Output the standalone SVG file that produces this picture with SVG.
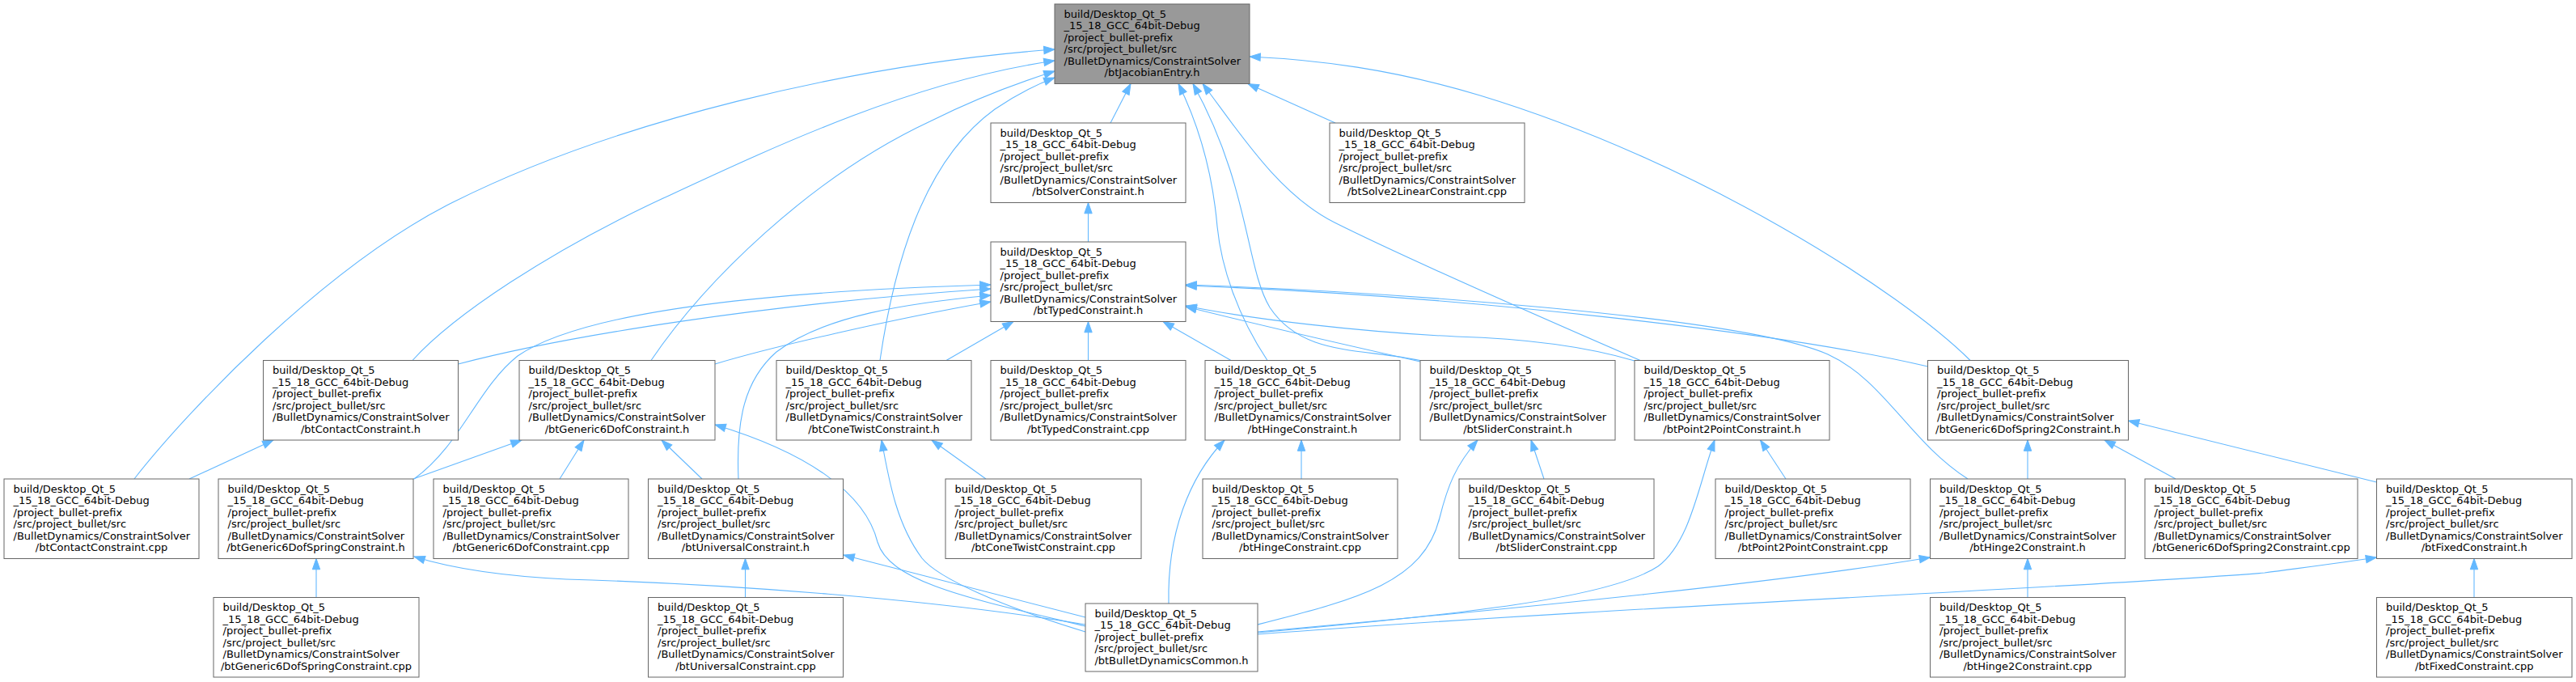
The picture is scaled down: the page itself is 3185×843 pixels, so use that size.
<svg xmlns="http://www.w3.org/2000/svg" width="3185" height="843" viewBox="0 0 3185 843">
<style>
.n rect{fill:#fff;stroke:#666;stroke-width:1}
.n.hl rect{fill:#999}
.n text{font-family:"DejaVu Sans","Liberation Sans",sans-serif;font-size:13px;fill:#000}
.n text.c{text-anchor:middle}
.e path{fill:none;stroke:#63b8ff;stroke-width:1.1;marker-end:url(#ah)}
</style>
<defs>
<marker id="ah" markerUnits="userSpaceOnUse" markerWidth="16" markerHeight="12" refX="13.3" refY="4.7" orient="auto" overflow="visible">
<path d="M0,0 L13.3,4.7 L0,9.4 z" fill="#63b8ff" stroke="#63b8ff" stroke-width="1"/>
</marker>
</defs>
<rect width="3185" height="843" fill="#fff"/>
<g id="edges" class="e">
<path d="M166,592 C230,510 400,330 560,250 C760,150 1050,80 1304,61"/>
<path d="M510,445.5 C560,390 680,310 820,245 C960,180 1130,100 1304,75"/>
<path d="M805,445.5 C870,350 1000,220 1150,150 C1200,125 1250,105 1304,88"/>
<path d="M1088,445.5 C1105,330 1140,200 1230,135 C1255,118 1280,105 1304,96"/>
<path d="M1373,152 L1398,103.5"/>
<path d="M1567,445.5 C1530,390 1510,330 1505,280 C1498,200 1475,140 1457,103.5"/>
<path d="M1756,445.5 C1680,430 1610,440 1570,380 C1540,330 1545,230 1475,103.5"/>
<path d="M2028,445.5 C1900,390 1740,320 1650,275 C1580,240 1530,160 1487,103.5"/>
<path d="M1651,152 L1543,103.5"/>
<path d="M2436,445.5 C2350,360 2100,200 1830,118 C1720,85 1630,74 1545,70"/>
<path d="M1345.5,299 L1345.5,250.5"/>
<path d="M512,592 C570,550 590,480 640,440 C720,385 950,360 1225,352"/>
<path d="M566.5,450 C700,415 950,375 1225,357"/>
<path d="M913,592 C910,520 920,470 960,435 C1020,390 1120,375 1225,365"/>
<path d="M884,450 C950,430 1100,395 1225,373"/>
<path d="M1170,445.5 L1253,397.5"/>
<path d="M1345.5,445.5 L1345.5,397.5"/>
<path d="M1522,445.5 L1438,397.5"/>
<path d="M1756,447 C1680,430 1550,400 1466,379"/>
<path d="M2021,446 C1950,425 1870,418 1800,416 C1680,410 1550,395 1466,378"/>
<path d="M2433,592 C2360,545 2330,470 2260,438 C2150,390 1700,360 1466,352"/>
<path d="M2383.5,453 C2200,410 1800,365 1466,353"/>
<path d="M234,592 L338,544"/>
<path d="M511,592 L645,544"/>
<path d="M692,592 L722,544"/>
<path d="M868,592 L818,544"/>
<path d="M391,738.5 L391,690.5"/>
<path d="M921.5,738.5 L921.5,690.5"/>
<path d="M1219,592 L1152,544"/>
<path d="M1609,592 L1609,544"/>
<path d="M1909,592 L1893,544"/>
<path d="M2208,592 L2176.5,544"/>
<path d="M2507,592 L2507,544"/>
<path d="M2690,592 L2602,544"/>
<path d="M2938.5,596 L2631.5,520"/>
<path d="M2507,738.5 L2507,690.5"/>
<path d="M3059,738.5 L3059,690.5"/>
<path d="M1342,772 C1150,740 900,722 700,716 C620,712 560,703 512,688"/>
<path d="M1342,774 C1200,740 1100,720 1085,670 C1070,610 1000,560 884,525"/>
<path d="M1342,763 L1043,686"/>
<path d="M1342,781 C1240,750 1160,715 1140,690 C1110,650 1100,600 1090,544"/>
<path d="M1445,746 C1443,660 1470,590 1514,544"/>
<path d="M1555,772 C1680,740 1760,720 1780,640 C1790,600 1800,575 1827,544"/>
<path d="M1555,782 C1800,760 1990,740 2050,700 C2090,670 2100,600 2120,544"/>
<path d="M1555,781 C1900,750 2200,720 2386.5,689"/>
<path d="M1555,784 C2000,750 2600,725 2800,708 C2860,700 2900,695 2938.5,689"/>
</g>
<g id="n_jacobian" class="n hl"><rect x="1304" y="5" width="241" height="98.5"/><text x="1315.5" y="21.7">build/Desktop_Qt_5</text><text x="1315.5" y="36.2">_15_18_GCC_64bit-Debug</text><text x="1315.5" y="50.7">/project_bullet-prefix</text><text x="1315.5" y="65.2">/src/project_bullet/src</text><text x="1315.5" y="79.7">/BulletDynamics/ConstraintSolver</text><text class="c" x="1424.5" y="94.2">/btJacobianEntry.h</text></g>
<g id="n_solver" class="n"><rect x="1225" y="152" width="241" height="98.5"/><text x="1236.5" y="168.7">build/Desktop_Qt_5</text><text x="1236.5" y="183.2">_15_18_GCC_64bit-Debug</text><text x="1236.5" y="197.7">/project_bullet-prefix</text><text x="1236.5" y="212.2">/src/project_bullet/src</text><text x="1236.5" y="226.7">/BulletDynamics/ConstraintSolver</text><text class="c" x="1345.5" y="241.2">/btSolverConstraint.h</text></g>
<g id="n_solve2" class="n"><rect x="1644" y="152" width="241" height="98.5"/><text x="1655.5" y="168.7">build/Desktop_Qt_5</text><text x="1655.5" y="183.2">_15_18_GCC_64bit-Debug</text><text x="1655.5" y="197.7">/project_bullet-prefix</text><text x="1655.5" y="212.2">/src/project_bullet/src</text><text x="1655.5" y="226.7">/BulletDynamics/ConstraintSolver</text><text class="c" x="1764.5" y="241.2">/btSolve2LinearConstraint.cpp</text></g>
<g id="n_typed" class="n"><rect x="1225" y="299" width="241" height="98.5"/><text x="1236.5" y="315.7">build/Desktop_Qt_5</text><text x="1236.5" y="330.2">_15_18_GCC_64bit-Debug</text><text x="1236.5" y="344.7">/project_bullet-prefix</text><text x="1236.5" y="359.2">/src/project_bullet/src</text><text x="1236.5" y="373.7">/BulletDynamics/ConstraintSolver</text><text class="c" x="1345.5" y="388.2">/btTypedConstraint.h</text></g>
<g id="n_contact_h" class="n"><rect x="325.5" y="445.5" width="241" height="98.5"/><text x="337" y="462.2">build/Desktop_Qt_5</text><text x="337" y="476.7">_15_18_GCC_64bit-Debug</text><text x="337" y="491.2">/project_bullet-prefix</text><text x="337" y="505.7">/src/project_bullet/src</text><text x="337" y="520.2">/BulletDynamics/ConstraintSolver</text><text class="c" x="446" y="534.7">/btContactConstraint.h</text></g>
<g id="n_g6dof_h" class="n"><rect x="642" y="445.5" width="242" height="98.5"/><text x="653.5" y="462.2">build/Desktop_Qt_5</text><text x="653.5" y="476.7">_15_18_GCC_64bit-Debug</text><text x="653.5" y="491.2">/project_bullet-prefix</text><text x="653.5" y="505.7">/src/project_bullet/src</text><text x="653.5" y="520.2">/BulletDynamics/ConstraintSolver</text><text class="c" x="763" y="534.7">/btGeneric6DofConstraint.h</text></g>
<g id="n_conetwist_h" class="n"><rect x="960" y="445.5" width="241" height="98.5"/><text x="971.5" y="462.2">build/Desktop_Qt_5</text><text x="971.5" y="476.7">_15_18_GCC_64bit-Debug</text><text x="971.5" y="491.2">/project_bullet-prefix</text><text x="971.5" y="505.7">/src/project_bullet/src</text><text x="971.5" y="520.2">/BulletDynamics/ConstraintSolver</text><text class="c" x="1080.5" y="534.7">/btConeTwistConstraint.h</text></g>
<g id="n_typed_cpp" class="n"><rect x="1225" y="445.5" width="241" height="98.5"/><text x="1236.5" y="462.2">build/Desktop_Qt_5</text><text x="1236.5" y="476.7">_15_18_GCC_64bit-Debug</text><text x="1236.5" y="491.2">/project_bullet-prefix</text><text x="1236.5" y="505.7">/src/project_bullet/src</text><text x="1236.5" y="520.2">/BulletDynamics/ConstraintSolver</text><text class="c" x="1345.5" y="534.7">/btTypedConstraint.cpp</text></g>
<g id="n_hinge_h" class="n"><rect x="1490" y="445.5" width="241" height="98.5"/><text x="1501.5" y="462.2">build/Desktop_Qt_5</text><text x="1501.5" y="476.7">_15_18_GCC_64bit-Debug</text><text x="1501.5" y="491.2">/project_bullet-prefix</text><text x="1501.5" y="505.7">/src/project_bullet/src</text><text x="1501.5" y="520.2">/BulletDynamics/ConstraintSolver</text><text class="c" x="1610.5" y="534.7">/btHingeConstraint.h</text></g>
<g id="n_slider_h" class="n"><rect x="1756" y="445.5" width="241" height="98.5"/><text x="1767.5" y="462.2">build/Desktop_Qt_5</text><text x="1767.5" y="476.7">_15_18_GCC_64bit-Debug</text><text x="1767.5" y="491.2">/project_bullet-prefix</text><text x="1767.5" y="505.7">/src/project_bullet/src</text><text x="1767.5" y="520.2">/BulletDynamics/ConstraintSolver</text><text class="c" x="1876.5" y="534.7">/btSliderConstraint.h</text></g>
<g id="n_p2p_h" class="n"><rect x="2021" y="445.5" width="241" height="98.5"/><text x="2032.5" y="462.2">build/Desktop_Qt_5</text><text x="2032.5" y="476.7">_15_18_GCC_64bit-Debug</text><text x="2032.5" y="491.2">/project_bullet-prefix</text><text x="2032.5" y="505.7">/src/project_bullet/src</text><text x="2032.5" y="520.2">/BulletDynamics/ConstraintSolver</text><text class="c" x="2141.5" y="534.7">/btPoint2PointConstraint.h</text></g>
<g id="n_g6dofspring2_h" class="n"><rect x="2383.5" y="445.5" width="248" height="98.5"/><text x="2395" y="462.2">build/Desktop_Qt_5</text><text x="2395" y="476.7">_15_18_GCC_64bit-Debug</text><text x="2395" y="491.2">/project_bullet-prefix</text><text x="2395" y="505.7">/src/project_bullet/src</text><text x="2395" y="520.2">/BulletDynamics/ConstraintSolver</text><text class="c" x="2507.5" y="534.7">/btGeneric6DofSpring2Constraint.h</text></g>
<g id="n_contact_cpp" class="n"><rect x="5" y="592" width="241" height="98.5"/><text x="16.5" y="608.7">build/Desktop_Qt_5</text><text x="16.5" y="623.2">_15_18_GCC_64bit-Debug</text><text x="16.5" y="637.7">/project_bullet-prefix</text><text x="16.5" y="652.2">/src/project_bullet/src</text><text x="16.5" y="666.7">/BulletDynamics/ConstraintSolver</text><text class="c" x="125.5" y="681.2">/btContactConstraint.cpp</text></g>
<g id="n_g6dofspring_h" class="n"><rect x="270" y="592" width="241" height="98.5"/><text x="281.5" y="608.7">build/Desktop_Qt_5</text><text x="281.5" y="623.2">_15_18_GCC_64bit-Debug</text><text x="281.5" y="637.7">/project_bullet-prefix</text><text x="281.5" y="652.2">/src/project_bullet/src</text><text x="281.5" y="666.7">/BulletDynamics/ConstraintSolver</text><text class="c" x="390.5" y="681.2">/btGeneric6DofSpringConstraint.h</text></g>
<g id="n_g6dof_cpp" class="n"><rect x="536" y="592" width="241" height="98.5"/><text x="547.5" y="608.7">build/Desktop_Qt_5</text><text x="547.5" y="623.2">_15_18_GCC_64bit-Debug</text><text x="547.5" y="637.7">/project_bullet-prefix</text><text x="547.5" y="652.2">/src/project_bullet/src</text><text x="547.5" y="666.7">/BulletDynamics/ConstraintSolver</text><text class="c" x="656.5" y="681.2">/btGeneric6DofConstraint.cpp</text></g>
<g id="n_universal_h" class="n"><rect x="801.5" y="592" width="241" height="98.5"/><text x="813" y="608.7">build/Desktop_Qt_5</text><text x="813" y="623.2">_15_18_GCC_64bit-Debug</text><text x="813" y="637.7">/project_bullet-prefix</text><text x="813" y="652.2">/src/project_bullet/src</text><text x="813" y="666.7">/BulletDynamics/ConstraintSolver</text><text class="c" x="922" y="681.2">/btUniversalConstraint.h</text></g>
<g id="n_conetwist_cpp" class="n"><rect x="1169" y="592" width="242" height="98.5"/><text x="1180.5" y="608.7">build/Desktop_Qt_5</text><text x="1180.5" y="623.2">_15_18_GCC_64bit-Debug</text><text x="1180.5" y="637.7">/project_bullet-prefix</text><text x="1180.5" y="652.2">/src/project_bullet/src</text><text x="1180.5" y="666.7">/BulletDynamics/ConstraintSolver</text><text class="c" x="1290" y="681.2">/btConeTwistConstraint.cpp</text></g>
<g id="n_hinge_cpp" class="n"><rect x="1487" y="592" width="241" height="98.5"/><text x="1498.5" y="608.7">build/Desktop_Qt_5</text><text x="1498.5" y="623.2">_15_18_GCC_64bit-Debug</text><text x="1498.5" y="637.7">/project_bullet-prefix</text><text x="1498.5" y="652.2">/src/project_bullet/src</text><text x="1498.5" y="666.7">/BulletDynamics/ConstraintSolver</text><text class="c" x="1607.5" y="681.2">/btHingeConstraint.cpp</text></g>
<g id="n_slider_cpp" class="n"><rect x="1804" y="592" width="241" height="98.5"/><text x="1815.5" y="608.7">build/Desktop_Qt_5</text><text x="1815.5" y="623.2">_15_18_GCC_64bit-Debug</text><text x="1815.5" y="637.7">/project_bullet-prefix</text><text x="1815.5" y="652.2">/src/project_bullet/src</text><text x="1815.5" y="666.7">/BulletDynamics/ConstraintSolver</text><text class="c" x="1924.5" y="681.2">/btSliderConstraint.cpp</text></g>
<g id="n_p2p_cpp" class="n"><rect x="2121" y="592" width="241" height="98.5"/><text x="2132.5" y="608.7">build/Desktop_Qt_5</text><text x="2132.5" y="623.2">_15_18_GCC_64bit-Debug</text><text x="2132.5" y="637.7">/project_bullet-prefix</text><text x="2132.5" y="652.2">/src/project_bullet/src</text><text x="2132.5" y="666.7">/BulletDynamics/ConstraintSolver</text><text class="c" x="2241.5" y="681.2">/btPoint2PointConstraint.cpp</text></g>
<g id="n_hinge2_h" class="n"><rect x="2386.5" y="592" width="241" height="98.5"/><text x="2398" y="608.7">build/Desktop_Qt_5</text><text x="2398" y="623.2">_15_18_GCC_64bit-Debug</text><text x="2398" y="637.7">/project_bullet-prefix</text><text x="2398" y="652.2">/src/project_bullet/src</text><text x="2398" y="666.7">/BulletDynamics/ConstraintSolver</text><text class="c" x="2507" y="681.2">/btHinge2Constraint.h</text></g>
<g id="n_g6dofspring2_cpp" class="n"><rect x="2652" y="592" width="263" height="98.5"/><text x="2663.5" y="608.7">build/Desktop_Qt_5</text><text x="2663.5" y="623.2">_15_18_GCC_64bit-Debug</text><text x="2663.5" y="637.7">/project_bullet-prefix</text><text x="2663.5" y="652.2">/src/project_bullet/src</text><text x="2663.5" y="666.7">/BulletDynamics/ConstraintSolver</text><text class="c" x="2783.5" y="681.2">/btGeneric6DofSpring2Constraint.cpp</text></g>
<g id="n_fixed_h" class="n"><rect x="2938.5" y="592" width="241.5" height="98.5"/><text x="2950" y="608.7">build/Desktop_Qt_5</text><text x="2950" y="623.2">_15_18_GCC_64bit-Debug</text><text x="2950" y="637.7">/project_bullet-prefix</text><text x="2950" y="652.2">/src/project_bullet/src</text><text x="2950" y="666.7">/BulletDynamics/ConstraintSolver</text><text class="c" x="3059.25" y="681.2">/btFixedConstraint.h</text></g>
<g id="n_g6dofspring_cpp" class="n"><rect x="264" y="738.5" width="254" height="98.5"/><text x="275.5" y="755.2">build/Desktop_Qt_5</text><text x="275.5" y="769.7">_15_18_GCC_64bit-Debug</text><text x="275.5" y="784.2">/project_bullet-prefix</text><text x="275.5" y="798.7">/src/project_bullet/src</text><text x="275.5" y="813.2">/BulletDynamics/ConstraintSolver</text><text class="c" x="391" y="827.7">/btGeneric6DofSpringConstraint.cpp</text></g>
<g id="n_universal_cpp" class="n"><rect x="801.5" y="738.5" width="241" height="98.5"/><text x="813" y="755.2">build/Desktop_Qt_5</text><text x="813" y="769.7">_15_18_GCC_64bit-Debug</text><text x="813" y="784.2">/project_bullet-prefix</text><text x="813" y="798.7">/src/project_bullet/src</text><text x="813" y="813.2">/BulletDynamics/ConstraintSolver</text><text class="c" x="922" y="827.7">/btUniversalConstraint.cpp</text></g>
<g id="n_common" class="n"><rect x="1342" y="746" width="213" height="84"/><text x="1353.5" y="762.5">build/Desktop_Qt_5</text><text x="1353.5" y="777">_15_18_GCC_64bit-Debug</text><text x="1353.5" y="791.5">/project_bullet-prefix</text><text x="1353.5" y="806">/src/project_bullet/src</text><text class="c" x="1448.5" y="820.5">/btBulletDynamicsCommon.h</text></g>
<g id="n_hinge2_cpp" class="n"><rect x="2386.5" y="738.5" width="241" height="98.5"/><text x="2398" y="755.2">build/Desktop_Qt_5</text><text x="2398" y="769.7">_15_18_GCC_64bit-Debug</text><text x="2398" y="784.2">/project_bullet-prefix</text><text x="2398" y="798.7">/src/project_bullet/src</text><text x="2398" y="813.2">/BulletDynamics/ConstraintSolver</text><text class="c" x="2507" y="827.7">/btHinge2Constraint.cpp</text></g>
<g id="n_fixed_cpp" class="n"><rect x="2938.5" y="738.5" width="241.5" height="98.5"/><text x="2950" y="755.2">build/Desktop_Qt_5</text><text x="2950" y="769.7">_15_18_GCC_64bit-Debug</text><text x="2950" y="784.2">/project_bullet-prefix</text><text x="2950" y="798.7">/src/project_bullet/src</text><text x="2950" y="813.2">/BulletDynamics/ConstraintSolver</text><text class="c" x="3059.25" y="827.7">/btFixedConstraint.cpp</text></g>
</svg>
